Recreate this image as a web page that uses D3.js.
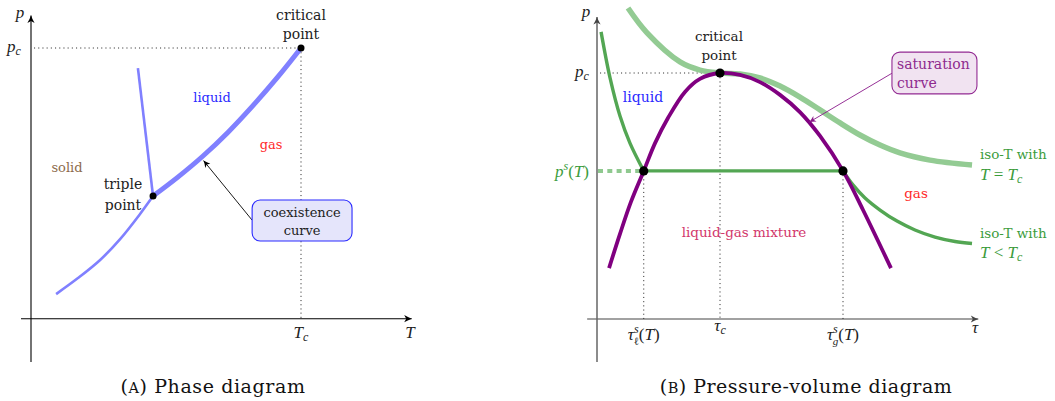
<!DOCTYPE html>
<html><head><meta charset="utf-8">
<script src="https://cdn.jsdelivr.net/npm/d3@7"></script>
<style>body{margin:0;background:#fff}svg{display:block}</style>
</head><body>
<script>
// ---------- (A) Phase diagram data (reduced units: T/Tc, p/pc) ----------
const vapT  = [0.452, 0.544, 0.637, 0.730, 0.822, 0.915, 1.0];
const vapP  = [0.453, 0.523, 0.601, 0.689, 0.787, 0.894, 1.0];
const subT  = [0.093, 0.174, 0.256, 0.330, 0.404, 0.452];
const subP  = [0.091, 0.150, 0.217, 0.294, 0.387, 0.453];
const meltT = [0.396, 0.452];
const meltP = [0.926, 0.453];
const tripleA   = [0.452, 0.453];
const criticalA = [1, 1];
const axisT = [-0.037, 1.41];
const axisP = [-0.16, 1.12];

// ---------- (B) Pressure-volume diagram data (tau/tau_c, p/p_c) ----------
const satTau = [0.098,0.187,0.276,0.380,0.472,0.577,0.715,0.837,1.0,1.163,1.325,1.488,1.650,1.813,2.0,2.163,2.285,2.390];
const satP   = [0.207,0.346,0.476,0.602,0.715,0.817,0.923,0.976,1.0,0.992,0.963,0.911,0.841,0.744,0.602,0.443,0.317,0.207];
const isoLiqTau = [0.033,0.106,0.187,0.268,0.380];
const isoLiqP   = [1.167,0.980,0.825,0.715,0.602];
const isoGasTau = [2.0,2.081,2.179,2.301,2.439,2.585,2.748,2.911,3.049];
const isoGasP   = [0.602,0.545,0.492,0.443,0.398,0.362,0.333,0.315,0.307];
const isoCTau = [0.252,0.407,0.675,0.837,1.0,1.163,1.325,1.488,1.650,1.813,1.976,2.138,2.301,2.463,2.707,3.049];
const isoCP   = [1.264,1.163,1.045,1.012,1.0,0.996,0.980,0.947,0.902,0.850,0.797,0.748,0.707,0.675,0.646,0.626];
const tauLiq = 0.38, tauGas = 2.0, tauCrit = 1.0, pSat = 0.602, pCrit = 1.0;
const axisTau = [-0.08, 3.10];
const axisPB  = [-0.175, 1.228];

// ---------- setup ----------
const W = 1055, H = 401;
const svg = d3.select('body').append('svg').attr('width', W).attr('height', H);
const TXT = 'DejaVu Serif, serif';
const MATH = 'Liberation Serif, serif';

const defs = svg.append('defs');
function marker(id, color, s) {
  defs.append('marker').attr('id', id).attr('viewBox', '-8 -4 9 8')
    .attr('refX', 0).attr('refY', 0).attr('markerUnits', 'userSpaceOnUse')
    .attr('markerWidth', 9 * s).attr('markerHeight', 8 * s).attr('orient', 'auto')
    .append('path').attr('d', 'M-7.5,-3.6 Q-3,-1 0,0 Q-3,1 -7.5,3.6 L-5.5,0 Z').attr('fill', color);
}
marker('arrK', '#000', 1);
marker('arrG', '#444', 1);
marker('arrS', '#000', 0.9);
marker('arrP', '#8a1a8a', 0.9);

function math(g, x, y, anchor, parts, color, size) {
  const t = g.append('text').attr('x', x).attr('y', y).attr('text-anchor', anchor)
    .attr('font-family', MATH).attr('font-size', size || 17).attr('fill', color || '#222');
  let cur = 0;
  parts.forEach(p => {
    const ts = t.append('tspan').text(p.t);
    const target = p.dy || 0;
    if (target - cur !== 0) ts.attr('dy', target - cur);
    cur = target;
    if (p.it) ts.attr('font-style', 'italic');
    if (p.fs) ts.attr('font-size', p.fs);
    if (p.dx) ts.attr('dx', p.dx);
  });
  return t;
}
function label(g, x, y, txt, color, size, anchor) {
  return g.append('text').attr('x', x).attr('y', y).attr('text-anchor', anchor || 'middle')
    .attr('font-family', TXT).attr('font-size', size || 13).attr('fill', color || '#222').text(txt);
}

// =============== Panel A ===============
const xA = d3.scaleLinear().domain([0, 1]).range([31, 301]);
const yA = d3.scaleLinear().domain([0, 1]).range([318.7, 48]);
const gA = svg.append('g');
const lineA = d3.line().x(d => xA(d[0])).y(d => yA(d[1])).curve(d3.curveCatmullRom.alpha(0.5));

// axes
gA.append('line').attr('x1', xA(axisT[0])).attr('x2', xA(axisT[1])).attr('y1', yA(0)).attr('y2', yA(0))
  .attr('stroke', '#000').attr('stroke-width', 1.1).attr('marker-end', 'url(#arrK)');
gA.append('line').attr('x1', xA(0)).attr('x2', xA(0)).attr('y1', yA(axisP[0])).attr('y2', yA(axisP[1]))
  .attr('stroke', '#000').attr('stroke-width', 1.1).attr('marker-end', 'url(#arrK)');
// dotted guides
const dot = '1.1 3.1';
gA.append('line').attr('x1', xA(0) + 3).attr('x2', xA(criticalA[0])).attr('y1', yA(criticalA[1])).attr('y2', yA(criticalA[1]))
  .attr('stroke', '#333').attr('stroke-width', 1).attr('stroke-dasharray', dot);
gA.append('line').attr('x1', xA(criticalA[0])).attr('x2', xA(criticalA[0])).attr('y1', yA(criticalA[1])).attr('y2', yA(0))
  .attr('stroke', '#333').attr('stroke-width', 1).attr('stroke-dasharray', dot);

// curves
gA.append('path').attr('d', lineA(d3.zip(subT, subP))).attr('fill', 'none').attr('stroke', '#8080ff').attr('stroke-width', 2.6);
gA.append('path').attr('d', d3.line().x(d => xA(d[0])).y(d => yA(d[1]))(d3.zip(meltT, meltP))).attr('fill', 'none').attr('stroke', '#8080ff').attr('stroke-width', 2.6);
gA.append('path').attr('d', lineA(d3.zip(vapT, vapP))).attr('fill', 'none').attr('stroke', '#8080ff').attr('stroke-width', 5);
gA.append('circle').attr('cx', xA(tripleA[0])).attr('cy', yA(tripleA[1])).attr('r', 3.5).attr('fill', '#000');
gA.append('circle').attr('cx', xA(criticalA[0])).attr('cy', yA(criticalA[1])).attr('r', 3.5).attr('fill', '#000');

// labels
math(gA, 20, 18, 'middle', [{t: 'p', it: true}]);
math(gA, 14, 52, 'middle', [{t: 'p', it: true}, {t: 'c', it: true, fs: 12, dy: 3}]);
math(gA, 410, 338, 'middle', [{t: 'T', it: true}]);
math(gA, 301, 338, 'middle', [{t: 'T', it: true}, {t: 'c', it: true, fs: 12, dy: 3}]);
label(gA, 301, 20, 'critical', '#222', 14);
label(gA, 301, 39, 'point', '#222', 14);
label(gA, 123, 189, 'triple', '#222', 14);
label(gA, 123, 210, 'point', '#222', 14);
label(gA, 212, 102, 'liquid', '#2a2aff', 13);
label(gA, 271, 149, 'gas', '#ff2a2a', 13);
label(gA, 67, 172, 'solid', '#8c6b4c', 13);

// coexistence box + arrow
const boxA = {t0: 0.819, t1: 1.189, p0: 0.4385, p1: 0.287};
gA.append('line').attr('x1', xA(boxA.t0)).attr('y1', yA(0.364)).attr('x2', xA(0.639)).attr('y2', yA(0.584))
  .attr('stroke', '#000').attr('stroke-width', 0.9).attr('marker-end', 'url(#arrS)');
gA.append('rect').attr('x', xA(boxA.t0)).attr('y', yA(boxA.p0))
  .attr('width', xA(boxA.t1) - xA(boxA.t0)).attr('height', yA(boxA.p1) - yA(boxA.p0))
  .attr('rx', 8).attr('fill', '#e5e5fb').attr('stroke', '#2a2aff').attr('stroke-width', 1.1);
const cxA = (xA(boxA.t0) + xA(boxA.t1)) / 2;
label(gA, cxA, 217, 'coexistence', '#222', 13);
label(gA, cxA, 235, 'curve', '#222', 13);

// caption
const capA = gA.append('text').attr('x', 213).attr('y', 393).attr('text-anchor', 'middle')
  .attr('font-family', TXT).attr('font-size', 19).attr('letter-spacing', 0.6).attr('fill', '#111');
capA.append('tspan').text('(');
capA.append('tspan').attr('font-size', 14.5).text('A');
capA.append('tspan').text(')  Phase diagram');

// =============== Panel B ===============
const xB = d3.scaleLinear().domain([0, 1]).range([597, 720]);
const yB = d3.scaleLinear().domain([0, 1]).range([319, 73]);
const gB = svg.append('g');
const lineB = d3.line().x(d => xB(d[0])).y(d => yB(d[1])).curve(d3.curveCatmullRom.alpha(0.5));

// axes
gB.append('line').attr('x1', xB(axisTau[0])).attr('x2', xB(axisTau[1])).attr('y1', yB(0)).attr('y2', yB(0))
  .attr('stroke', '#444').attr('stroke-width', 1.2).attr('marker-end', 'url(#arrG)');
gB.append('line').attr('x1', xB(0)).attr('x2', xB(0)).attr('y1', yB(axisPB[0])).attr('y2', yB(axisPB[1]))
  .attr('stroke', '#666').attr('stroke-width', 1.5).attr('marker-end', 'url(#arrG)');

// dotted guides
gB.append('line').attr('x1', xB(0) + 3).attr('x2', xB(tauCrit)).attr('y1', yB(pCrit)).attr('y2', yB(pCrit))
  .attr('stroke', '#333').attr('stroke-width', 1).attr('stroke-dasharray', dot);
[tauLiq, tauCrit, tauGas].forEach(t => {
  gB.append('line').attr('x1', xB(t)).attr('x2', xB(t)).attr('y1', yB(t === tauCrit ? pCrit : pSat)).attr('y2', yB(0))
    .attr('stroke', '#333').attr('stroke-width', 1).attr('stroke-dasharray', dot);
});

// p^s(T) dashed
gB.append('line').attr('x1', xB(0) + 1).attr('x2', xB(tauLiq)).attr('y1', yB(pSat)).attr('y2', yB(pSat))
  .attr('stroke', '#8fc98f').attr('stroke-width', 4).attr('stroke-dasharray', '5 4.3');

// isotherms
gB.append('path').attr('d', lineB(d3.zip(isoCTau, isoCP))).attr('fill', 'none')
  .attr('stroke', '#93cb93').attr('stroke-width', 5.5);
gB.append('path').attr('d', lineB(d3.zip(isoLiqTau, isoLiqP))).attr('fill', 'none')
  .attr('stroke', '#53a653').attr('stroke-width', 3.4);
gB.append('line').attr('x1', xB(tauLiq)).attr('x2', xB(tauGas)).attr('y1', yB(pSat)).attr('y2', yB(pSat))
  .attr('stroke', '#53a653').attr('stroke-width', 3.4);
gB.append('path').attr('d', lineB(d3.zip(isoGasTau, isoGasP))).attr('fill', 'none')
  .attr('stroke', '#53a653').attr('stroke-width', 3.4);

// saturation curve
gB.append('path').attr('d', lineB(d3.zip(satTau, satP))).attr('fill', 'none')
  .attr('stroke', '#800080').attr('stroke-width', 3.8);

// dots
[[tauLiq, pSat], [tauGas, pSat], [tauCrit, pCrit]].forEach(d => {
  gB.append('circle').attr('cx', xB(d[0])).attr('cy', yB(d[1])).attr('r', 4.6).attr('fill', '#000');
});

// axis labels
math(gB, 586, 17, 'middle', [{t: 'p', it: true}]);
math(gB, 582, 77, 'middle', [{t: 'p', it: true}, {t: 'c', it: true, fs: 12, dy: 3}]);
math(gB, 589, 177, 'end', [{t: 'p', it: true}, {t: 's', it: true, fs: 12, dy: -7}, {t: '(', dy: 0}, {t: 'T', it: true}, {t: ')'}], '#3c9c3c');
math(gB, 975, 333, 'middle', [{t: 'τ', it: true}]);
math(gB, xB(tauCrit), 331, 'middle', [{t: 'τ', it: true}, {t: 'c', it: true, fs: 12, dy: 3}]);
math(gB, xB(tauLiq), 340, 'middle', [{t: 'τ', it: true}, {t: 's', it: true, fs: 12, dy: -7}, {t: 'ℓ', fs: 11, dy: 5, dx: -5}, {t: '(', dy: 0}, {t: 'T', it: true}, {t: ')'}]);
math(gB, xB(tauGas), 340, 'middle', [{t: 'τ', it: true}, {t: 's', it: true, fs: 12, dy: -7}, {t: 'g', it: true, fs: 11, dy: 5, dx: -5}, {t: '(', dy: 0}, {t: 'T', it: true}, {t: ')'}]);

label(gB, 719, 41, 'critical', '#222', 13.5);
label(gB, 719, 60, 'point', '#222', 13.5);
label(gB, 643, 102, 'liquid', '#2a2aff', 14);
label(gB, 916, 198, 'gas', '#ff2a2a', 13.5);
label(gB, 744, 237, 'liquid-gas mixture', '#d2386c', 13.5);
label(gB, 980, 159, 'iso-T with', '#3c9c3c', 13.5, 'start');
math(gB, 980, 180, 'start', [{t: 'T', it: true}, {t: ' = '}, {t: 'T', it: true}, {t: 'c', it: true, fs: 12, dy: 3}], '#3c9c3c');
label(gB, 980, 238, 'iso-T with', '#3c9c3c', 13.5, 'start');
math(gB, 980, 258, 'start', [{t: 'T', it: true}, {t: ' < '}, {t: 'T', it: true}, {t: 'c', it: true, fs: 12, dy: 3}], '#3c9c3c');

// saturation box + arrow
const boxB = {t0: 2.398, t1: 3.089, p0: 1.085, p1: 0.915};
gB.append('line').attr('x1', xB(boxB.t0)).attr('y1', yB(0.999)).attr('x2', xB(1.725)).attr('y2', yB(0.80))
  .attr('stroke', '#8a1a8a').attr('stroke-width', 0.9).attr('marker-end', 'url(#arrP)');
gB.append('rect').attr('x', xB(boxB.t0)).attr('y', yB(boxB.p0))
  .attr('width', xB(boxB.t1) - xB(boxB.t0)).attr('height', yB(boxB.p1) - yB(boxB.p0))
  .attr('rx', 8).attr('fill', '#f1e3f1').attr('stroke', '#922a92').attr('stroke-width', 1.1);
label(gB, xB(boxB.t0) + 5, 69, 'saturation', '#8e2a8e', 14, 'start');
label(gB, xB(boxB.t0) + 5, 88, 'curve', '#8e2a8e', 14, 'start');

// caption
const capB = gB.append('text').attr('x', 806).attr('y', 393).attr('text-anchor', 'middle')
  .attr('font-family', TXT).attr('font-size', 19).attr('letter-spacing', 0.5).attr('fill', '#111');
capB.append('tspan').text('(');
capB.append('tspan').attr('font-size', 14.5).text('B');
capB.append('tspan').text(')  Pressure-volume diagram');
</script>
</body></html>
